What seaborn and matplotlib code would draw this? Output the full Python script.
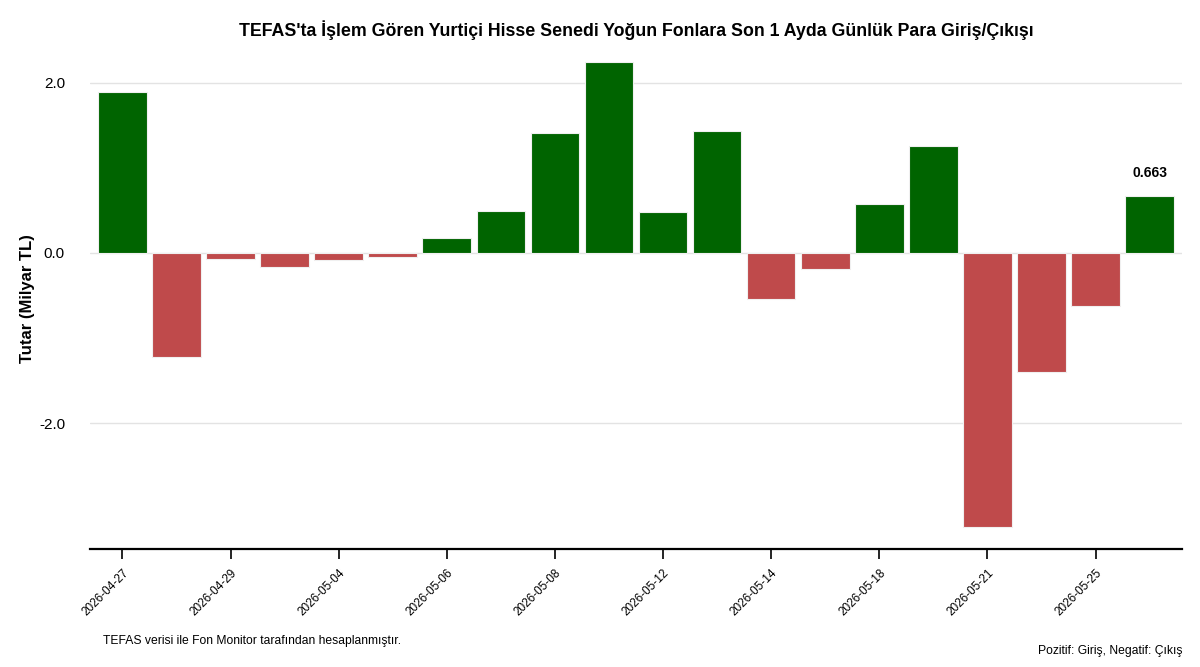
import matplotlib
matplotlib.use("Agg")
import matplotlib.pyplot as plt
import seaborn as sns
import pandas as pd

# data (milyar TL)
dates = ["2026-04-27", "2026-04-28", "2026-04-29", "2026-04-30", "2026-05-04",
         "2026-05-05", "2026-05-06", "2026-05-07", "2026-05-08", "2026-05-11",
         "2026-05-12", "2026-05-13", "2026-05-14", "2026-05-15", "2026-05-18",
         "2026-05-20", "2026-05-21", "2026-05-22", "2026-05-25", "2026-05-26"]
flows = [1.895, -1.224, -0.067, -0.165, -0.082,
         -0.050, 0.180, 0.494, 1.409, 2.243,
         0.482, 1.432, -0.541, -0.188, 0.570,
         1.257, -3.220, -1.400, -0.624, 0.663]

GREEN = "#006400"
RED = "#BF4A4B"

df = pd.DataFrame({"Tarih": dates, "Tutar": flows})
df["Yon"] = ["Giris" if v >= 0 else "Cikis" for v in df["Tutar"]]

sns.set_style("white")
plt.rcParams["font.family"] = ["Liberation Sans", "DejaVu Sans"]
plt.rcParams["text.color"] = "black"
plt.rcParams["axes.labelcolor"] = "black"
plt.rcParams["xtick.color"] = "black"
plt.rcParams["ytick.color"] = "black"

fig = plt.figure(figsize=(12, 6.67), dpi=100)
ax = fig.add_axes([0.075, 0.177, 0.91, 0.75])

sns.barplot(data=df, x="Tarih", y="Tutar", hue="Yon",
            palette={"Giris": GREEN, "Cikis": RED}, dodge=False, saturation=1,
            width=0.9, legend=False, edgecolor="#f0f0f0", linewidth=0.8,
            ax=ax)

ax.set_ylim(-3.48, 2.4)
ax.set_xlim(-0.6, len(dates) - 0.4)
ax.set_yticks([-2.0, 0.0, 2.0])
ax.set_yticklabels(["-2.0", "0.0", "2.0"], fontsize=11)
ax.yaxis.grid(True, color="#e3e3e3", linewidth=1)
ax.set_axisbelow(True)
ax.tick_params(axis="y", left=False, length=0, pad=18)

tick_idx = list(range(0, len(dates), 2))
ax.set_xticks(tick_idx)
ax.set_xticklabels([dates[i] for i in tick_idx], rotation=45, ha="right",
                   rotation_mode="anchor", fontsize=8.5)
ax.tick_params(axis="x", bottom=True, length=7, width=1.2, color="black",
               direction="out", pad=6)

for s in ["top", "right", "left"]:
    ax.spines[s].set_visible(False)
ax.spines["bottom"].set_color("black")
ax.spines["bottom"].set_linewidth(1.6)

ax.set_xlabel("")
ax.set_ylabel("Tutar (Milyar TL)", fontsize=12, fontweight="bold", labelpad=3)
fig.text(0.53, 0.955,
         "TEFAS'ta İşlem Gören Yurtiçi Hisse Senedi Yoğun Fonlara Son 1 Ayda Günlük Para Giriş/Çıkışı",
         fontsize=12.8, fontweight="bold", ha="center", va="center")

last = len(flows) - 1
ax.text(last, flows[last] + 0.28, f"{flows[last]:.3f}", ha="center", va="center",
        fontsize=10, fontweight="bold")

fig.text(0.086, 0.039, "TEFAS verisi ile Fon Monitor tarafından hesaplanmıştır.",
         fontsize=8.7, va="center")
fig.text(0.985, 0.024, "Pozitif: Giriş, Negatif: Çıkış", fontsize=8.7,
         ha="right", va="center")

fig.savefig("out.png", dpi=100)
